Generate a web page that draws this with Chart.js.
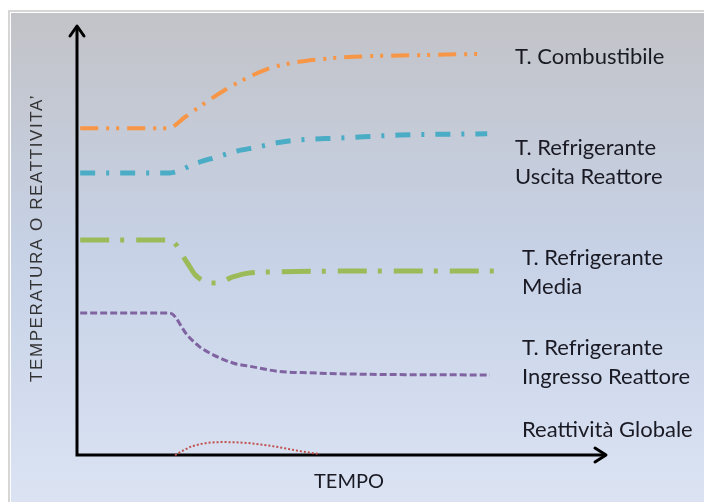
<!DOCTYPE html>
<html>
<head>
<meta charset="utf-8">
<script src="https://cdn.jsdelivr.net/npm/chart.js@4.4.1/dist/chart.umd.min.js"></script>
<style>
  html, body { margin: 0; padding: 0; background: #fff; }
  canvas { display: block; }
</style>
</head>
<body>
<canvas id="transientChart" width="704" height="502"></canvas>
<script>
var ctx = document.getElementById("transientChart").getContext('2d');

// Define the data (time and value in arbitrary units, 0-100)
var combTime = [0.6, 17.2, 20.4, 23.6, 27.9, 31.3, 36, 39.8, 44.9, 52.1, 64.7, 77];
var combVal = [76, 76, 78.6, 81.4, 84.9, 87.2, 89.8, 91, 91.9, 92.6, 93, 93.3];

var uscitaTime = [0.6, 17.5, 22.6, 26.4, 30.2, 34, 37.7, 42.1, 49.6, 60.9, 77.4];
var uscitaVal = [65.6, 65.6, 67.9, 69.3, 70.7, 71.6, 72.6, 73.3, 73.7, 74.4, 74.7];

var mediaTime = [0.6, 17.5, 20.8, 22.3, 24.5, 26.4, 29.4, 32.3, 37.7, 60.9, 79.2];
var mediaVal = [50, 50, 44.7, 41.9, 40.2, 40, 41.4, 42.3, 42.6, 42.8, 42.8];

var ingressoTime = [0.6, 17.5, 20.8, 23.2, 25.7, 29.4, 33.2, 37.7, 44, 53.4, 77.9];
var ingressoVal = [33, 33, 27.9, 25.1, 23.3, 21.4, 20.5, 19.5, 19.1, 18.8, 18.6];

var reattTime = [18.5, 21.9, 27.5, 32.1, 37.7, 42.1, 45.8];
var reattVal = [0, 2.1, 3, 2.8, 1.9, 0.9, 0.2];

var seriesLabels = [
    ["T. Combustibile"],
    ["T. Refrigerante", "Uscita Reattore"],
    ["T. Refrigerante", "Media"],
    ["T. Refrigerante", "Ingresso Reattore"],
    ["Reattività Globale"]
];
var xTitle = "TEMPO";
var yTitle = "TEMPERATURA O REATTIVITA’";
// End Defining data

function toPoints(xs, ys) {
    return xs.map(function (x, i) { return { x: x, y: ys[i] }; });
}

// background panel, axes with arrows, and the side labels
var sketchPlugin = {
    id: 'sketch',
    beforeDraw: function (chart) {
        var c = chart.ctx;
        c.save();
        c.fillStyle = '#ffffff';
        c.fillRect(0, 0, chart.width, chart.height);
        var g = c.createLinearGradient(0, 12, 0, chart.height);
        g.addColorStop(0, '#c2c3c7');
        g.addColorStop(0.5, '#c7d2e7');
        g.addColorStop(1, '#dbe3f3');
        c.strokeStyle = '#d6d6d6';
        c.lineWidth = 2;
        c.strokeRect(9, 11, chart.width, chart.height);
        c.fillStyle = g;
        c.fillRect(11, 13, chart.width - 11, chart.height - 13);
        c.restore();
    },
    beforeDatasetsDraw: function (chart) {
        var c = chart.ctx;
        var a = chart.chartArea;
        c.save();
        c.strokeStyle = '#000';
        c.lineWidth = 3;
        c.lineJoin = 'miter';
        c.beginPath();
        c.moveTo(a.left, a.top + 1);
        c.lineTo(a.left, a.bottom);
        c.lineTo(a.right - 1, a.bottom);
        c.stroke();
        c.lineJoin = 'round';
        c.lineCap = 'round';
        c.beginPath();
        c.moveTo(a.left - 7, a.top + 11);
        c.lineTo(a.left, a.top + 1);
        c.lineTo(a.left + 7, a.top + 11);
        c.moveTo(a.right - 12, a.bottom - 7);
        c.lineTo(a.right - 1, a.bottom);
        c.lineTo(a.right - 12, a.bottom + 7);
        c.stroke();
        c.restore();
    },
    afterDraw: function (chart, args, opts) {
        var c = chart.ctx;
        c.save();
        c.fillStyle = '#1a1a24';
        c.textBaseline = 'middle';
        c.font = '22px Lato';
        opts.labelSpots.forEach(function (spot, i) {
            seriesLabels[i].forEach(function (line, j) {
                c.fillText(line, spot.x, spot.y + j * 29);
            });
        });
        c.font = '20px Lato';
        c.textAlign = 'center';
        c.fillText(xTitle, 349, 482);
        c.fillStyle = '#333';
        c.font = '17px "Liberation Sans"';
        c.letterSpacing = '1.6px';
        c.translate(37, 238);
        c.rotate(-Math.PI / 2);
        c.fillText(yTitle, 0, 0);
        c.restore();
    }
};

var transientChart = new Chart(ctx, {
    type: 'line',
    data: {
        datasets: [{
            label: 'T. Combustibile',
            data: toPoints(combTime, combVal),
            borderColor: '#f79646',
            borderWidth: 4,
            borderDash: [18, 8, 3, 7, 3, 8]
        }, {
            label: 'T. Refrigerante Uscita Reattore',
            data: toPoints(uscitaTime, uscitaVal),
            borderColor: '#4bacc6',
            borderWidth: 5,
            borderDash: [15, 11, 3, 11]
        }, {
            label: 'T. Refrigerante Media',
            data: toPoints(mediaTime, mediaVal),
            borderColor: '#9bbb59',
            borderWidth: 5,
            borderDash: [29, 11, 4, 12]
        }, {
            label: 'T. Refrigerante Ingresso Reattore',
            data: toPoints(ingressoTime, ingressoVal),
            borderColor: '#8064a2',
            borderWidth: 3,
            borderDash: [7, 3]
        }, {
            label: 'Reattività Globale',
            data: toPoints(reattTime, reattVal),
            borderColor: '#c0504d',
            borderWidth: 2,
            borderDash: [2, 2]
        }]
    },
    options: {
        responsive: false,
        animation: false,
        clip: false,
        layout: { padding: { left: 77, top: 25, right: 97, bottom: 47 } },
        elements: {
            point: { radius: 0 },
            line: { fill: false, cubicInterpolationMode: 'monotone', borderCapStyle: 'butt' }
        },
        scales: {
            x: { type: 'linear', min: 0, max: 100, display: false },
            y: { type: 'linear', min: 0, max: 100, display: false }
        },
        plugins: {
            legend: { display: false },
            tooltip: { enabled: false },
            sketch: {
                labelSpots: [
                    { x: 515, y: 57 },
                    { x: 515, y: 148 },
                    { x: 522, y: 258 },
                    { x: 522, y: 348 },
                    { x: 522, y: 430 }
                ]
            }
        }
    },
    plugins: [sketchPlugin]
});
</script>
</body>
</html>
